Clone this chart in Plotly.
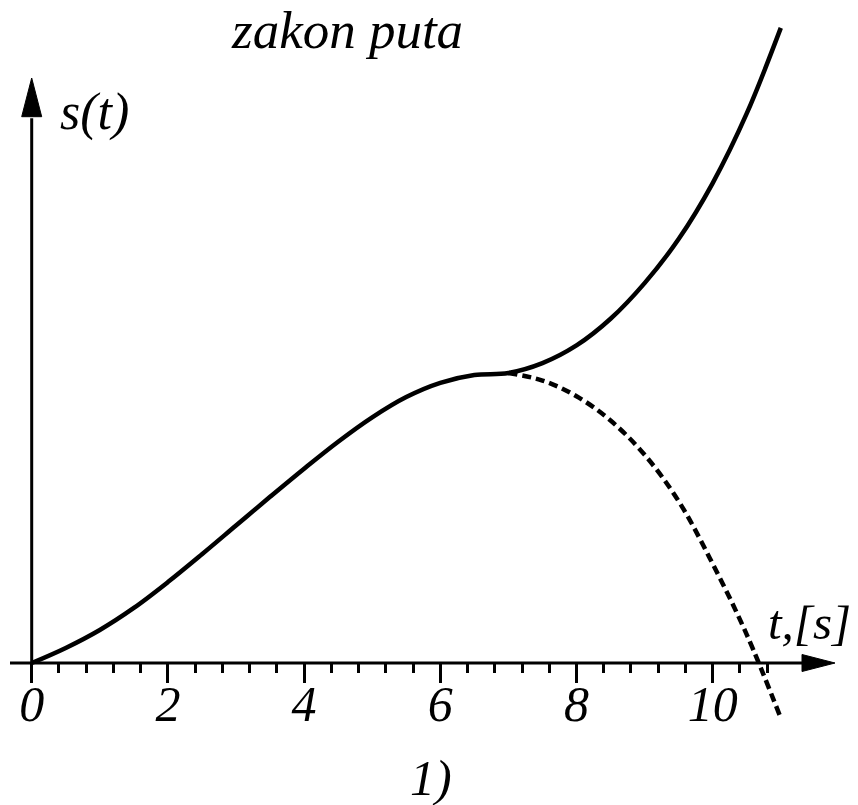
import plotly.graph_objects as go

# --- data: travelled distance s(t) ---
t_solid = [0, 0.5, 1, 1.5, 2, 2.5, 3, 3.5, 4, 4.5, 5, 5.5, 6, 6.5, 7,
           7.5, 8, 8.5, 9, 9.5, 10, 10.5, 11]
s_solid = [0, 0.52, 1.14, 1.90, 2.79, 3.75, 4.74, 5.73, 6.70, 7.63, 8.47,
           9.17, 9.66, 9.93, 10.0, 10.34, 10.95, 11.87, 13.10, 14.62, 16.55,
           18.95, 21.9]

# alternative branch after t = 7 s (dashed)
t_dashed = [7, 7.5, 8, 8.5, 9, 9.5, 10, 10.5, 11]
s_dashed = [10.0, 9.74, 9.20, 8.36, 7.18, 5.58, 3.42, 0.98, -1.90]

# --- axis ticks ---
major_ticks = [0, 2, 4, 6, 8, 10]
major_labels = ["0", "2", "4", "6", "8", "10"]
minor_ticks = [round(0.4 * k, 1) for k in range(1, 28) if k % 5 != 0]

# --- page geometry ---
W, H = 858, 805
PX_T = 68.1          # pixels per second along t
PX_S = 29.0          # pixels per unit of s
ORIGIN = (31.7, 663.0)

x_range = [-ORIGIN[0] / PX_T, (W - ORIGIN[0]) / PX_T]
y_range = [(ORIGIN[1] - H) / PX_S, ORIGIN[1] / PX_S]


def tx(px):
    return (px - ORIGIN[0]) / PX_T


def sy(py):
    return (ORIGIN[1] - py) / PX_S


SERIF = "Liberation Serif"
INK = "black"

fig = go.Figure()
fig.add_trace(go.Scatter(
    x=t_solid, y=s_solid, mode="lines",
    line=dict(color=INK, width=4.5, shape="spline", smoothing=1.0),
    hoverinfo="skip", showlegend=False))
fig.add_trace(go.Scatter(
    x=t_dashed, y=s_dashed, mode="lines",
    line=dict(color=INK, width=4.5, shape="spline", smoothing=1.0,
              dash="9px,5px"),
    hoverinfo="skip", showlegend=False))

shapes = []
# horizontal axis with arrow
x_base, x_tip, x_half = tx(802), tx(835), 8.5 / PX_S
shapes.append(dict(type="line", xref="x", yref="y", x0=tx(10), y0=0,
                   x1=x_base + 0.05, y1=0, line=dict(color=INK, width=3)))
shapes.append(dict(type="path", xref="x", yref="y",
                   path=f"M {x_base},{-x_half} L {x_tip},0 L {x_base},{x_half} Z",
                   fillcolor=INK, line=dict(color=INK, width=1)))
# vertical axis with arrow
y_base, y_tip, y_half = sy(116.7), sy(78), 10 / PX_T
shapes.append(dict(type="line", xref="x", yref="y", x0=0, y0=0,
                   x1=0, y1=y_base - 0.05, line=dict(color=INK, width=3)))
shapes.append(dict(type="path", xref="x", yref="y",
                   path=f"M {-y_half},{y_base} L 0,{y_tip} L {y_half},{y_base} Z",
                   fillcolor=INK, line=dict(color=INK, width=1)))


def label(text, cx, cy, size):
    return dict(text=text, xref="paper", yref="paper", x=cx / W, y=1 - cy / H,
                xanchor="center", yanchor="middle", showarrow=False,
                font=dict(family=SERIF, size=size, color=INK, style="italic"))


annotations = [
    label("zakon puta", 347, 30, 53),
    label("s(t)", 94, 112, 52),
    label("t,[s]", 809, 622, 49),
    label("1)", 431, 778, 50),
]

fig.update_layout(
    width=W, height=H,
    margin=dict(l=0, r=0, t=0, b=0),
    paper_bgcolor="white", plot_bgcolor="white",
    shapes=shapes, annotations=annotations,
    xaxis=dict(
        range=x_range, anchor="free",
        position=(0 - y_range[0]) / (y_range[1] - y_range[0]),
        showgrid=False, zeroline=False, showline=False,
        tickmode="array", tickvals=major_ticks, ticktext=major_labels,
        ticks="outside", ticklen=19, tickwidth=3, tickcolor=INK,
        ticklabelstandoff=-22,
        tickfont=dict(family=SERIF, size=50, color=INK, style="italic"),
        minor=dict(tickmode="array", tickvals=minor_ticks, ticks="outside",
                   ticklen=9, tickwidth=3, tickcolor=INK, showgrid=False),
        fixedrange=True,
    ),
    yaxis=dict(range=y_range, visible=False, fixedrange=True),
)

fig.write_html("out.html")
